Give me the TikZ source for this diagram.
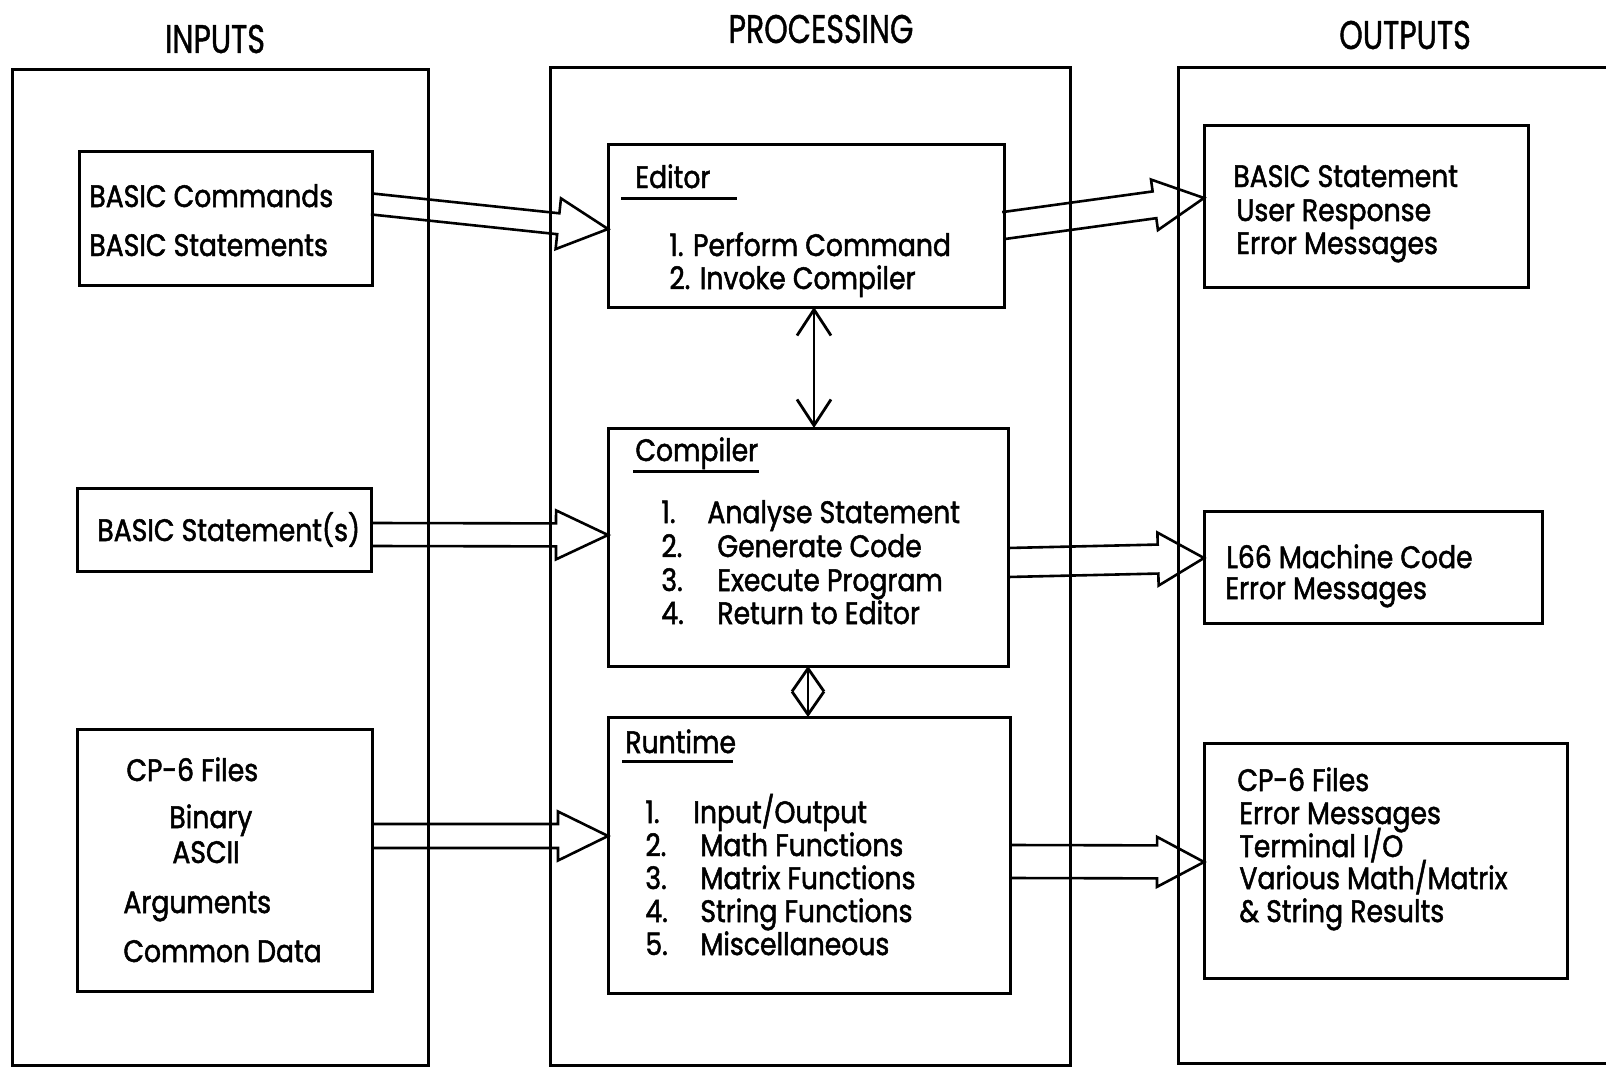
\documentclass[tikz,border=0pt]{standalone}
\usepackage{fontspec}
\setmainfont{Poppins}[FakeStretch=0.86, FakeBold=1.6]
\newfontfamily\hdrfont{Poppins}[FakeStretch=0.75, FakeBold=1.0]
\usetikzlibrary{calc,arrows.meta}

\newcommand{\blockarrow}[5]{%
  \coordinate (ba-b) at ($(#2)!#5!(#1)$);
  \draw[blk] ($(#1)!#3!90:(#2)$) -- ($(ba-b)!#3!90:(#2)$) -- ($(ba-b)!#4!90:(#2)$) -- (#2)
     -- ($(ba-b)!#4!-90:(#2)$) -- ($(ba-b)!#3!-90:(#2)$) -- ($(#1)!#3!-90:(#2)$);
}

\begin{document}
\begin{tikzpicture}[x=0.5pt,y=-0.5pt,
  colbox/.style={draw, line width=1.5pt, inner sep=0pt, outer sep=0pt},
  box/.style={draw, line width=1.5pt, inner sep=0pt, outer sep=0pt},
  blk/.style={line width=1.3pt, line join=miter},
  txt/.style={anchor=base west, inner sep=0pt, font=\fontsize{15.5pt}{18pt}\selectfont},
  hdr/.style={anchor=base, inner sep=0pt, font=\hdrfont\fontsize{20pt}{24pt}\selectfont},
  uline/.style={line width=1.5pt},
  dbl/.style={line width=1.4pt, {Straight Barb[length=13pt,width=17pt]}-{Straight Barb[length=13pt,width=17pt]}},
  dbls/.style={line width=1.4pt, {Straight Barb[length=11.5pt,width=16pt]}-{Straight Barb[length=11.5pt,width=16pt]}}
]
\useasboundingbox (0,0) rectangle (1606,1070);

% columns
\node[colbox, minimum width=208pt, minimum height=497.5pt] (col1) at (220,567.5) {};
\node[colbox, minimum width=260pt, minimum height=498.5pt] (col2) at (810,566.5) {};
\draw[line width=1.5pt] (1606,68) -- (1178,68) -- (1178,1063) -- (1606,1063);

% headers
\node[hdr] (hin) at (215,53) {INPUTS};
\node[hdr] (hpr) at (821,43) {PROCESSING};
\node[hdr] (hout) at (1405,49) {OUTPUTS};

% input boxes
\node[box, minimum width=146.5pt, minimum height=66.5pt] (ib1) at (225.5,218.5) {};
\node[box, minimum width=147pt, minimum height=41.5pt] (ib2) at (224,529.5) {};
\node[box, minimum width=147.5pt, minimum height=131pt] (ib3) at (224.5,860) {};

% processing boxes
\node[box, minimum width=198pt, minimum height=81pt] (ed) at (806,226) {};
\node[box, minimum width=200pt, minimum height=119pt] (co) at (808,547) {};
\node[box, minimum width=201pt, minimum height=138pt] (rt) at (809,855) {};

% output boxes
\node[box, minimum width=162pt, minimum height=80.5pt] (ob1) at (1366,206.5) {};
\node[box, minimum width=169pt, minimum height=56pt] (ob2) at (1373,567) {};
\node[box, minimum width=181.5pt, minimum height=117.5pt] (ob3) at (1385.5,860.5) {};

% input texts
\node[txt] (t11) at (89,207) {BASIC Commands};
\node[txt] (t12) at (89,256) {BASIC Statements};
\node[txt] (t21) at (97,541) {BASIC Statement(s)};
\node[txt] (t31) at (126,781) {CP-6 Files};
\node[txt] (t32) at (169,828) {Binary};
\node[txt] (t33) at (172,863) {ASCII};
\node[txt] (t34) at (123,913) {Arguments};
\node[txt] (t35) at (123,962) {Common Data};

% editor
\node[txt] (edt) at (635,188) {Editor};
\draw[uline] (621,198) -- (737,198);
\node[txt] (ed1) at (669,256) {1. Perform Command};
\node[txt] (ed2) at (669,289) {2. Invoke Compiler};

% compiler
\node[txt] (cot) at (635,461) {Compiler};
\draw[uline] (633,471) -- (759,471);
\node[txt] (con1) at (661,523) {1.};
\node[txt] (co1) at (707,523) {Analyse Statement};
\node[txt] (con2) at (661,557) {2.};
\node[txt] (co2) at (717,557) {Generate Code};
\node[txt] (con3) at (661,591) {3.};
\node[txt] (co3) at (717,591) {Execute Program};
\node[txt] (con4) at (661,624) {4.};
\node[txt] (co4) at (717,624) {Return to Editor};

% runtime
\node[txt] (rtt) at (625,753) {Runtime};
\draw[uline] (622,761) -- (733,761);
\node[txt] (rtn1) at (645,823) {1.};
\node[txt] (rt1) at (693,823) {Input/Output};
\node[txt] (rtn2) at (645,856) {2.};
\node[txt] (rt2) at (700,856) {Math Functions};
\node[txt] (rtn3) at (645,889) {3.};
\node[txt] (rt3) at (700,889) {Matrix Functions};
\node[txt] (rtn4) at (645,922) {4.};
\node[txt] (rt4) at (700,922) {String Functions};
\node[txt] (rtn5) at (645,955) {5.};
\node[txt] (rt5) at (700,955) {Miscellaneous};

% output texts
\node[txt] (o11) at (1233,187) {BASIC Statement};
\node[txt] (o12) at (1236,221) {User Response};
\node[txt] (o13) at (1236,254) {Error Messages};
\node[txt] (o21) at (1226,568) {L66 Machine Code};
\node[txt] (o22) at (1225,599) {Error Messages};
\node[txt] (o31) at (1237,791) {CP-6 Files};
\node[txt] (o32) at (1239,824) {Error Messages};
\node[txt] (o33) at (1239,857) {Terminal I/O};
\node[txt] (o34) at (1239,889) {Various Math/Matrix};
\node[txt] (o35) at (1239,922) {\& String Results};

% block arrows
\coordinate (a1t) at (ib1.east |- 0,204);
\coordinate (a1p) at (ed.west |- 0,229);
\blockarrow{a1t}{a1p}{5.25pt}{12.75pt}{25pt}
\coordinate (a2t) at (ed.east |- 0,225.5);
\coordinate (a2p) at (ob1.west |- 0,198);
\blockarrow{a2t}{a2p}{6.75pt}{12.75pt}{25pt}
\coordinate (a3t) at (ib2.east |- 0,534.5);
\coordinate (a3p) at (co.west |- 0,535);
\blockarrow{a3t}{a3p}{5.75pt}{12.25pt}{26pt}
\coordinate (a4t) at (co.east |- 0,562.5);
\coordinate (a4p) at (ob2.west |- 0,558);
\blockarrow{a4t}{a4p}{7.25pt}{13.25pt}{23pt}
\coordinate (a5t) at (ib3.east |- 0,836);
\coordinate (a5p) at (rt.west |- 0,836);
\blockarrow{a5t}{a5p}{6pt}{12.25pt}{25pt}
\coordinate (a6t) at (rt.east |- 0,861.5);
\coordinate (a6p) at (ob3.west |- 0,862);
\blockarrow{a6t}{a6p}{8.25pt}{12.5pt}{23.5pt}

% double arrows
\draw[dbl] (ed.south -| 814,0) -- (co.north -| 814,0);
\draw[dbls] (co.south -| 808,0) -- (rt.north -| 808,0);
\end{tikzpicture}
\end{document}
